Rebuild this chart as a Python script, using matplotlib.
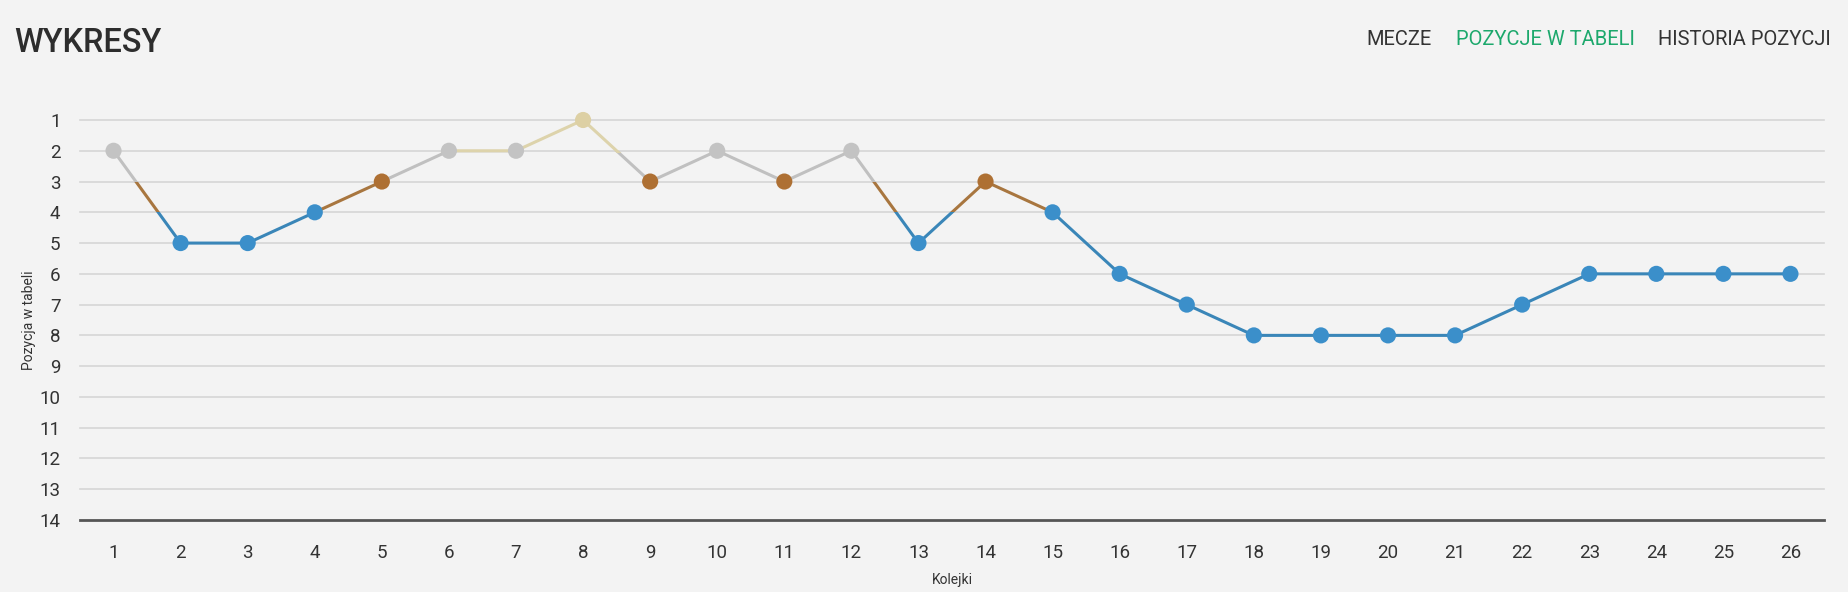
import matplotlib
matplotlib.use("Agg")
import matplotlib.pyplot as plt
from matplotlib.patches import Rectangle

# ---- data ----
rounds = list(range(1, 27))
positions = [2, 5, 5, 4, 3, 2, 2, 1, 3, 2, 3, 2, 5, 3, 4, 6, 7, 8, 8, 8, 8, 7, 6, 6, 6, 6]
y_ticks = list(range(1, 15))
title = "WYKRESY"
nav_items = ["MECZE", "POZYCJE W TABELI", "HISTORIA POZYCJI"]
x_label = "Kolejki"
y_label = "Pozycja w tabeli"

# ---- style ----
FONT = ["Roboto", "DejaVu Sans"]
plt.rcParams['font.family'] = FONT
BG = "#f3f3f3"
TXT = "#333333"
GOLD_M, GOLD_L = "#ddd0a4", "#ddd3ab"
SILV_M, SILV_L = "#c3c3c3", "#c0c0c0"
BRON_M, BRON_L = "#ae7033", "#a8763f"
BLUE_M, BLUE_L = "#3b8fca", "#3a86b8"

W, H = 1848, 592
fig = plt.figure(figsize=(W / 100, H / 100), dpi=100, facecolor=BG)
ax = fig.add_axes([80 / W, 1 - 520 / H, (1824 - 80) / W, (520 - 120) / H])
ax.set_facecolor(BG)

ax.set_xlim(0.5, 26.5)
ax.set_ylim(14, 1)

# grid lines
for t in y_ticks[:-1]:
    ax.axhline(t, color="#d5d5d5", lw=1.2, zorder=1, clip_on=False)
ax.axhline(14, color="#555555", lw=2, zorder=2, clip_on=False)

for s in ax.spines.values():
    s.set_visible(False)

ax.set_yticks(y_ticks)
ax.set_yticklabels([str(t) for t in y_ticks])
ax.set_xticks(rounds)
ax.set_xticklabels([str(r) for r in rounds])
ax.tick_params(axis='both', length=0, labelsize=13.5, labelcolor=TXT)
ax.tick_params(axis='y', pad=14)
ax.tick_params(axis='x', pad=17)

# zone-coloured line (clipped per position band)
zones = [
    (SILV_L, 2.0, 3.0),
    (BRON_L, 3.0, 4.0),
    (BLUE_L, 4.0, 20.0),
    (GOLD_L, -5.0, 2.07),
]
for col, y0, y1 in zones:
    ln, = ax.plot(rounds, positions, color=col, lw=2.2, zorder=3,
                  solid_joinstyle='round', solid_capstyle='round')
    rect = Rectangle((-5, y0), 40, y1 - y0, transform=ax.transData)
    ln.set_clip_path(rect)


def marker_color(p):
    if p == 1:
        return GOLD_M
    if p == 2:
        return SILV_M
    if p == 3:
        return BRON_M
    return BLUE_M


cols = [marker_color(p) for p in positions]
ax.scatter(rounds, positions, s=135, c=cols, edgecolors='none', zorder=4, clip_on=False)

# axis titles
fig.text(952 / W, 1 - 580 / H, x_label, ha='center', va='center', fontsize=10, color=TXT)
fig.text(29.5 / W, 1 - 320 / H, y_label, ha='center', va='center', rotation=90,
         fontsize=10, color=TXT)

# header
fig.text(14 / W, 1 - 52 / H, title, ha='left', va='baseline', fontsize=23.5,
         color="#2d2d2d", fontweight='medium')
nav_cx = [1399, 1545, 1744]
nav_col = ["#333333", "#1ca86c", "#333333"]
for x, t, c in zip(nav_cx, nav_items, nav_col):
    fig.text(x / W, 1 - 45 / H, t, ha='center', va='baseline', fontsize=14.5, color=c)

fig.savefig("out.png", dpi=100, facecolor=BG)
